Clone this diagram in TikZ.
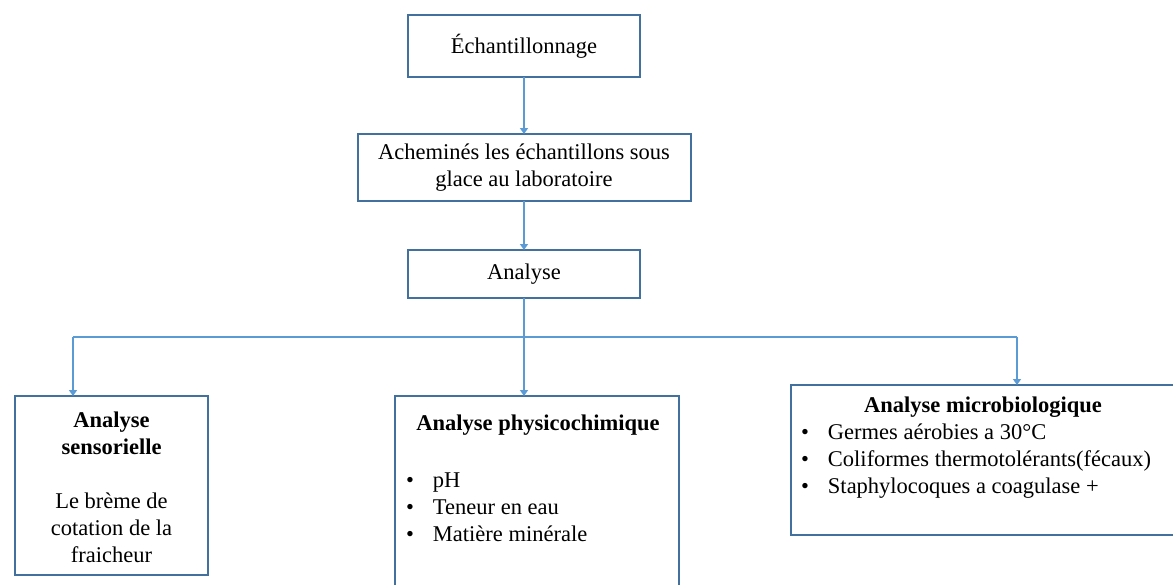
\documentclass[tikz,border=0pt]{standalone}
\usepackage{fontspec}
\setmainfont{Liberation Serif}
\usetikzlibrary{calc,arrows.meta}

\definecolor{boxblue}{RGB}{65,113,156}
\definecolor{arrowblue}{RGB}{91,155,213}

\begin{document}
\begin{tikzpicture}[x=1pt,y=-1pt,
	txt/.style={inner sep=0pt,outer sep=0pt,font=\fontsize{22.5}{27}\selectfont},
	box/.style={txt,draw=boxblue,line width=2pt,align=center},
	conn/.style={draw=arrowblue,line width=2pt},
	arr/.style={conn,-{Triangle[length=6pt,width=8pt]}}]
\begin{scope}
\useasboundingbox (0,0) rectangle (1173,584);

\def\fluxgap{39}
\def\bulletgap{27pt}
\def\itm#1{\makebox[\bulletgap][l]{\textbullet}#1}

% upper chain
\node[box,minimum width=232,minimum height=62] (ech) at (524,46) {Échantillonnage};
\node[box,minimum width=333,minimum height=67] (ach) at (524,167.5)
	{Acheminés les échantillons sous\\glace au laboratoire};
\node[box,minimum width=232,minimum height=48] (ana) at (524,274) {Analyse};

% lower boxes
\node[box,minimum width=193,minimum height=179] (sens) at (111.5,485.5) {};
\node[box,minimum width=284,minimum height=204] (phys) at (537,498) {};
\node[box,minimum width=394,minimum height=150] (micro) at (988,460) {};

% texts
\node[txt,align=center] (sensText) at (111.5,487.5)
	{\textbf{Analyse}\\\textbf{sensorielle}\\[27pt]Le brème de\\cotation de la\\fraicheur};
\node[txt] (physTitle) at (538,425) {\textbf{Analyse physicochimique}};
\node[txt,align=left,anchor=west] (physList) at (406,507)
	{\itm{pH}\\\itm{Teneur en eau}\\\itm{Matière minérale}};
\node[txt] (microTitle) at (983,407) {\textbf{Analyse microbiologique}};
\node[txt,align=left,anchor=west] (microList) at (801,461)
	{\itm{Germes aérobies a 30°C}\\\itm{Coliformes thermotolérants(fécaux)}\\\itm{Staphylocoques a coagulase +}};

% connectors
\coordinate (j) at ($(ana.south)+(0,\fluxgap)$);
\coordinate (jl) at (73,0 |- j);
\coordinate (jr) at (1017,0 |- j);

\draw[arr] (ech) -- (ach);
\draw[arr] (ach) -- (ana);
\draw[conn] (ana.south) -- (j);
\draw[conn] (jl) -- (jr);
\draw[arr] (jl) -- (jl |- sens.north);
\draw[arr] (j) -- (j |- phys.north);
\draw[arr] (jr) -- (jr |- micro.north);

\end{scope}
\end{tikzpicture}
\end{document}
